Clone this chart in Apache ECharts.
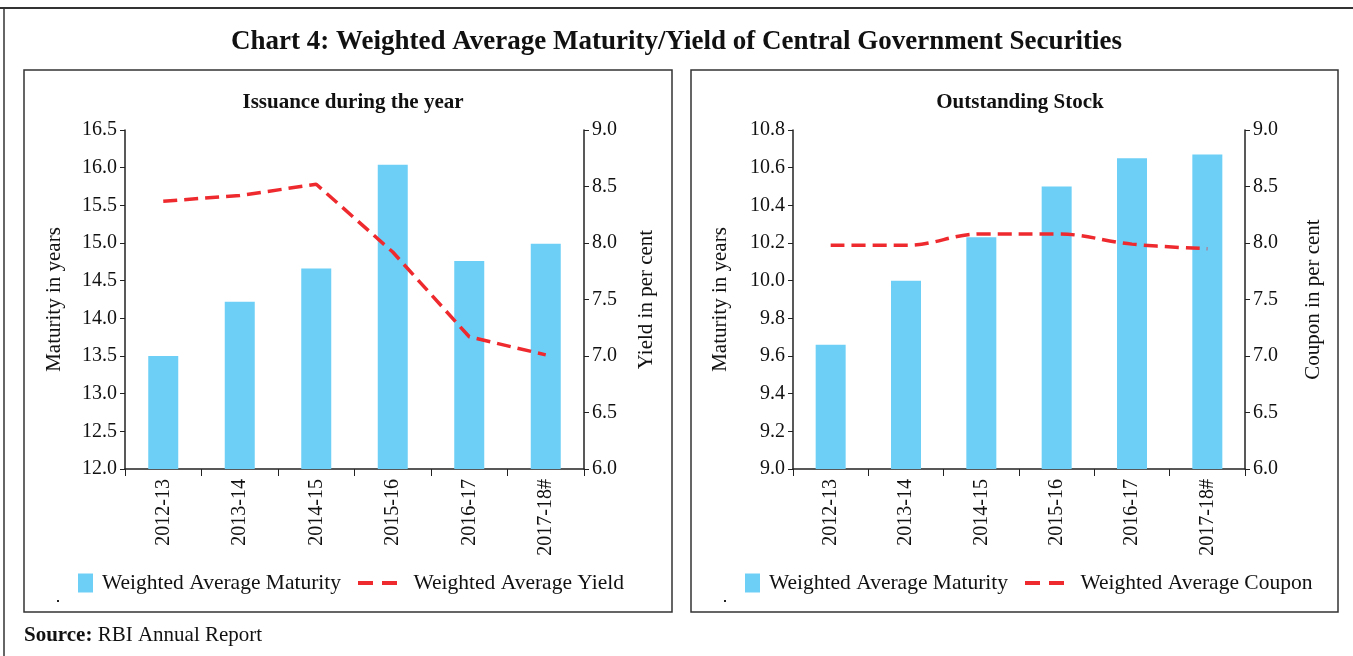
<!DOCTYPE html>
<html>
<head>
<meta charset="utf-8">
<script src="https://cdn.jsdelivr.net/npm/echarts@6/dist/echarts.min.js"></script>
<style>
  html, body { margin: 0; padding: 0; background: #fff; }
  #chart { width: 1353px; height: 656px; }
</style>
</head>
<body>
<div id="chart"></div>
<script>
// data
var years = ['2012-13', '2013-14', '2014-15', '2015-16', '2016-17', '2017-18#'];
var issueMaturity = [13.5, 14.22, 14.66, 16.04, 14.76, 14.99];
var issueYield = [8.37, 8.42, 8.52, 7.92, 7.17, 7.01];
var stockMaturity = [9.66, 10.0, 10.23, 10.5, 10.65, 10.67];
var stockCoupon = [7.98, 7.98, 8.08, 8.08, 7.99, 7.95];

var serif = '"Liberation Serif", "DejaVu Serif", serif';
var barColor = '#6dcff6';
var lineColor = '#ee2a2f';
var dashIcon = 'path://M0,0 h15 v4 h-15 z M24,0 h15 v4 h-15 z';

var myChart = echarts.init(document.getElementById('chart'));

function yAx(grid, min, max, step, name, pos, nameGap) {
    return {
        type: 'value',
        gridIndex: grid,
        position: pos,
        min: min,
        max: max,
        interval: step,
        name: name,
        nameLocation: 'middle',
        nameGap: nameGap,
        nameTextStyle: { fontFamily: serif, fontSize: 21, color: '#111' },
        axisLine: { show: true, lineStyle: { color: '#222', width: 1.5 } },
        axisTick: { show: true, length: 5, lineStyle: { color: '#222' } },
        axisLabel: {
            fontFamily: serif, fontSize: 20, color: '#111', margin: 8,
            formatter: function (v) { return v.toFixed(1); }
        },
        splitLine: { show: false }
    };
}

function xAx(grid) {
    return {
        type: 'category',
        gridIndex: grid,
        data: years,
        axisLine: { lineStyle: { color: '#222', width: 1.5 } },
        axisTick: { show: true, length: 7, lineStyle: { color: '#222' } },
        axisLabel: {
            fontFamily: serif, fontSize: 20, color: '#111',
            rotate: 90, interval: 0, margin: 10
        }
    };
}

function leg(left, name, icon, w, h, gap) {
    return {
        left: left, top: 567,
        itemWidth: w, itemHeight: h,
        icon: icon,
        textStyle: { fontFamily: serif, fontSize: 21.5, color: '#111', padding: [0, 0, 0, gap] },
        data: [name]
    };
}

var option = {
    backgroundColor: '#fff',
    animation: false,
    title: [
        {
            text: 'Chart 4: Weighted Average Maturity/Yield of Central Government Securities',
            left: 'center', top: 24,
            textStyle: { fontFamily: serif, fontSize: 27, fontWeight: 'bold', color: '#111' }
        },
        {
            text: 'Issuance during the year',
            left: 348, top: 87, textAlign: 'center',
            textStyle: { fontFamily: serif, fontSize: 21, fontWeight: 'bold', color: '#111' }
        },
        {
            text: 'Outstanding Stock',
            left: 1015, top: 87, textAlign: 'center',
            textStyle: { fontFamily: serif, fontSize: 21, fontWeight: 'bold', color: '#111' }
        }
    ],
    legend: [
        leg(73, 'Weighted Average Maturity', 'rect', 15, 19, 4),
        leg(353, 'Weighted Average Yield', dashIcon, 42, 4, 10),
        leg(740, 'Weighted Average Maturity ', 'rect', 15, 19, 4),
        leg(1020, 'Weighted Average Coupon', dashIcon, 42, 4, 10)
    ],
    grid: [
        { left: 125, right: 769, top: 130, bottom: 187 },
        { left: 793, right: 108, top: 130, bottom: 187 }
    ],
    xAxis: [xAx(0), xAx(1)],
    yAxis: [
        yAx(0, 12, 16.5, 0.5, 'Maturity in years', 'left', 60),
        yAx(0, 6, 9, 0.5, 'Yield in per cent', 'right', 52),
        yAx(1, 9, 10.8, 0.2, 'Maturity in years', 'left', 62),
        yAx(1, 6, 9, 0.5, 'Coupon in per cent', 'right', 58)
    ],
    series: [
        {
            name: 'Weighted Average Maturity',
            type: 'bar',
            xAxisIndex: 0, yAxisIndex: 0,
            barWidth: 30,
            itemStyle: { color: barColor },
            data: issueMaturity
        },
        {
            name: 'Weighted Average Yield',
            type: 'line',
            xAxisIndex: 0, yAxisIndex: 1,
            symbol: 'none',
            lineStyle: { color: lineColor, width: 3.5, type: [14, 7] },
            itemStyle: { color: lineColor },
            data: issueYield
        },
        {
            name: 'Weighted Average Maturity ',
            type: 'bar',
            xAxisIndex: 1, yAxisIndex: 2,
            barWidth: 30,
            itemStyle: { color: barColor },
            data: stockMaturity
        },
        {
            name: 'Weighted Average Coupon',
            type: 'line',
            xAxisIndex: 1, yAxisIndex: 3,
            symbol: 'none',
            smooth: 0.4,
            lineStyle: { color: lineColor, width: 3.5, type: [14, 7] },
            itemStyle: { color: lineColor },
            data: stockCoupon
        }
    ],
    graphic: [
        // outer frame: top and left edges only
        { type: 'line', shape: { x1: 0, y1: 8, x2: 1353, y2: 8 }, style: { stroke: '#333', lineWidth: 2 } },
        { type: 'line', shape: { x1: 4, y1: 8, x2: 4, y2: 656 }, style: { stroke: '#333', lineWidth: 1.5 } },
        // panel boxes
        { type: 'rect', shape: { x: 24, y: 70, width: 648, height: 542 }, style: { fill: 'none', stroke: '#333', lineWidth: 1.5 }, z: -1 },
        { type: 'rect', shape: { x: 691, y: 70, width: 647, height: 542 }, style: { fill: 'none', stroke: '#333', lineWidth: 1.5 }, z: -1 },
        // stray dots
        { type: 'rect', shape: { x: 57, y: 600, width: 2, height: 2 }, style: { fill: '#222' } },
        { type: 'rect', shape: { x: 724, y: 600, width: 2, height: 2 }, style: { fill: '#222' } },
        {
            type: 'text', left: 24, top: 625,
            style: {
                text: '{b|Source:} RBI Annual Report',
                font: '21px ' + serif,
                fill: '#111',
                rich: { b: { fontFamily: serif, fontSize: 21, fontWeight: 'bold', fill: '#111' } }
            }
        }
    ]
};

myChart.setOption(option);
</script>
</body>
</html>
